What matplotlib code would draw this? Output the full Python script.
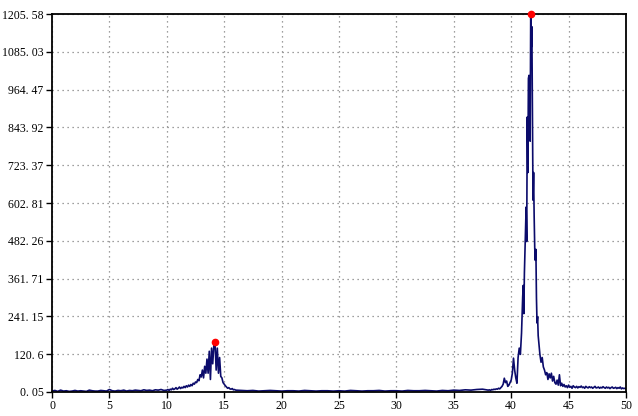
import numpy as np
import matplotlib
matplotlib.use("Agg")
import matplotlib.pyplot as plt

# spectrum samples (x step differs per segment)
seg_a_y = [3, 5, 2, 6, 3, 4, 2, 3, 5, 3, 4, 3, 2, 6, 4, 3, 3, 5, 4, 3,
           8, 4, 3, 5, 4, 6, 3, 5, 4, 6, 5, 4, 7, 5, 6, 4, 7, 6, 8, 5]          # 0 .. 9.75, step 0.25
seg_b_y = [6, 8, 5, 9, 7, 12, 8, 10, 14, 9, 12, 16, 11, 15, 13, 18, 14, 20, 16, 22,
           18, 24, 20, 28, 25, 32, 30, 40, 36, 55, 48, 70, 45, 82, 60, 105, 60, 130, 40, 140,
           90, 150, 158, 70, 140, 60, 110, 50, 45, 30, 25, 20, 16, 12, 14, 10, 9, 11, 7, 8]  # 10 .. 15.9, step 0.1
seg_c_y = [6, 5, 4, 5, 3, 4, 5, 4, 3, 4, 4, 3, 5, 4, 3, 4, 4, 3, 4, 3, 5, 4,
           3, 4, 4, 5, 3, 4, 4, 3, 5, 4, 4, 5, 4, 3, 5, 4, 6, 5, 7, 6, 8, 9]   # 16 .. 37.5, step 0.5
seg_d_y = [6, 7, 5, 8, 7, 9, 8, 10, 9, 12, 10, 14, 18, 25, 44, 30, 35, 18, 22, 30,
           38, 60, 108, 70, 45, 28, 110, 140, 120, 188]                          # 38 .. 40.9, step 0.1
seg_e_y = [303, 340, 250, 380, 455, 520, 590, 480, 877, 700, 1000, 1010, 950, 800, 1205.58,
           1100, 1165, 900, 612, 700, 560, 459, 420, 455, 300, 220, 240, 180, 160, 140]  # 41 .. 42.45, step 0.05
seg_f_y = [120, 95, 110, 80, 70, 55, 62, 40, 58, 45, 60, 35, 50, 30, 25, 38, 22, 55, 20, 28,
           18, 24, 16, 20, 14]                                                   # 42.5 .. 44.9, step 0.1
seg_g_y = [22, 15, 18, 12, 20, 16, 14, 18, 13, 17, 15, 19, 14, 16, 12, 18, 15, 13, 17, 14,
           16, 12, 15, 18, 13, 14, 16, 12, 15, 13, 17, 14, 12, 16, 13, 15, 11, 14, 16, 12,
           13, 15, 11, 14, 12, 16, 10, 13, 11, 12, 10]                           # 45 .. 50, step 0.1

x = np.concatenate([
    np.arange(40) * 0.25,
    10 + np.arange(60) * 0.1,
    16 + np.arange(44) * 0.5,
    38 + np.arange(30) * 0.1,
    41 + np.arange(30) * 0.05,
    42.5 + np.arange(25) * 0.1,
    45 + np.arange(51) * 0.1,
])
y = np.array(seg_a_y + seg_b_y + seg_c_y + seg_d_y + seg_e_y + seg_f_y + seg_g_y, dtype=float)

y_ticks = [0.05, 120.6, 241.15, 361.71, 482.26, 602.81, 723.37, 843.92, 964.47, 1085.03, 1205.58]
y_labels = ["0. 05", "120. 6", "241. 15", "361. 71", "482. 26", "602. 81",
            "723. 37", "843. 92", "964. 47", "1085. 03", "1205. 58"]
x_ticks = [0, 5, 10, 15, 20, 25, 30, 35, 40, 45, 50]

plt.rcParams['font.family'] = ['Liberation Serif', 'DejaVu Sans']

fig = plt.figure(figsize=(6.38, 4.16), dpi=100)
ax = fig.add_axes([52 / 638, 24 / 416, 574 / 638, 378 / 416])

ax.plot(x, y, color="#0b0b6b", lw=1.2)

# peak markers: global max and the max of the lower band
small = x < 30
pk1 = np.argmax(np.where(small, y, -1))
pk2 = np.argmax(np.where(small, -1, y))
ax.plot(x[[pk1, pk2]], y[[pk1, pk2]], "o", color="red", ms=4.5, clip_on=False, zorder=5)

ax.set_xlim(0, 50)
ax.set_ylim(0.05, 1205.58)
ax.set_xticks(x_ticks)
ax.set_yticks(y_ticks)
ax.set_yticklabels(y_labels)
ax.grid(True, color="#808080", linestyle=(0, (1, 3)), lw=0.9)
ax.tick_params(direction="out", length=4, width=1, labelsize=8.5, colors="black", pad=2)
for s in ax.spines.values():
    s.set_linewidth(1.3)
    s.set_color("black")

fig.savefig("out.png", dpi=100)
